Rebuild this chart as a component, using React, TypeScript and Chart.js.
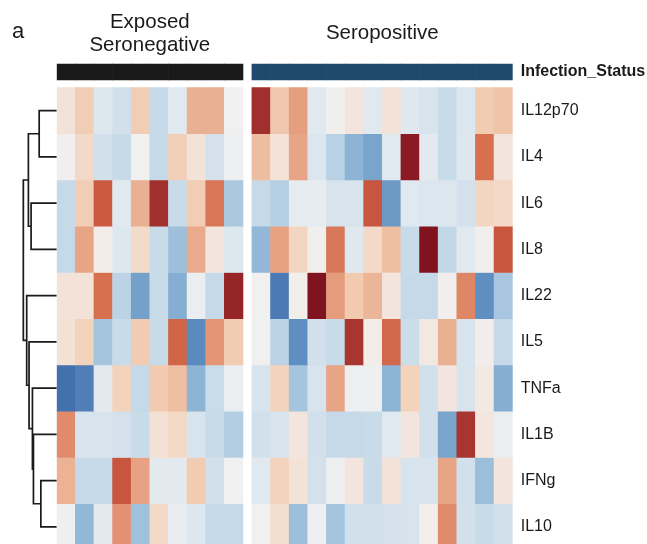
import { useEffect, useRef } from 'react';
import { Chart, registerables } from 'chart.js';

Chart.register(...registerables);

// ---- data -------------------------------------------------------------
const cytokines = ['IL12p70', 'IL4', 'IL6', 'IL8', 'IL22', 'IL5', 'TNFa', 'IL1B', 'IFNg', 'IL10'];

const groups = ['Exposed Seronegative', 'Seropositive'];
const groupSizes = [10, 14];
const groupHeaders: (string | string[])[] = [['Exposed', 'Seronegative'], 'Seropositive'];
const annotationTitle = 'Infection_Status';

// scaled cytokine levels per subject (10 exposed seronegative, then 14 seropositive)
const IL12p70 = [0.12, 0.25, -0.12, -0.2, 0.25, -0.28, -0.1, 0.38, 0.38, 0, 0.82, 0.28, 0.44, -0.1, 0.01, 0.1, -0.1, 0.12, -0.11, -0.16, -0.26, -0.13, 0.26, 0.3];
const IL4 = [0.02, 0.18, -0.2, -0.27, 0, -0.28, 0.24, 0.12, -0.18, -0.02, 0.33, 0.12, 0.42, -0.13, -0.34, -0.52, -0.6, -0.1, 0.88, -0.08, -0.26, -0.12, 0.6, 0.1];
const IL6 = [-0.28, 0.25, 0.68, -0.1, 0.38, 0.82, -0.26, 0.25, 0.58, -0.4, -0.28, -0.35, -0.07, -0.06, -0.16, -0.16, 0.7, -0.65, -0.1, -0.13, -0.13, -0.18, 0.2, 0.18];
const IL8 = [-0.28, 0.42, 0.05, -0.12, 0.17, -0.26, -0.45, 0.4, 0.1, -0.12, -0.5, 0.43, 0.2, 0.01, 0.57, -0.11, 0.18, 0.32, -0.26, 0.92, -0.29, -0.1, 0.01, 0.7];
const IL22 = [0.12, 0.12, 0.6, -0.32, -0.62, -0.26, -0.55, -0.03, -0.28, 0.85, 0, -0.8, 0.03, 0.92, 0.45, 0.27, 0.36, 0.1, -0.28, -0.28, 0.02, 0.52, -0.7, -0.41];
const IL5 = [0.13, 0.22, -0.42, -0.26, 0.26, -0.26, 0.64, -0.72, 0.47, 0.26, 0, -0.32, -0.7, -0.2, -0.26, 0.8, 0.05, 0.63, -0.23, 0.08, 0.38, -0.15, 0.04, -0.28];
const TNFa = [-0.85, -0.78, -0.08, 0.22, -0.28, 0.27, 0.32, -0.52, -0.25, -0.04, -0.16, 0.22, -0.42, -0.16, 0.42, -0.02, -0.02, -0.52, 0.22, -0.2, 0.1, -0.15, 0.07, -0.55];
const IL1B = [0.5, -0.15, -0.15, -0.18, -0.26, 0.13, 0.19, -0.15, -0.26, -0.36, -0.2, -0.15, 0.1, -0.2, -0.28, -0.28, -0.26, -0.1, 0.1, -0.2, -0.6, 0.8, 0.09, -0.03];
const IFNg = [0.37, -0.28, -0.28, 0.7, 0.43, -0.08, -0.08, 0.26, -0.2, 0, -0.1, 0.22, 0.12, -0.18, -0.02, 0.1, -0.26, 0.12, -0.16, -0.16, 0.42, -0.2, -0.46, 0.1];
const IL10 = [-0.02, -0.5, -0.08, 0.48, -0.44, 0.18, -0.05, -0.12, -0.28, -0.28, 0, 0.15, -0.46, -0.02, -0.42, -0.2, -0.2, -0.18, -0.16, 0.03, 0.5, -0.2, -0.26, -0.2];

const levels = [IL12p70, IL4, IL6, IL8, IL22, IL5, TNFa, IL1B, IFNg, IL10];

// row clustering (scipy-style linkage): ids 0-9 are rows, 10+ are merges in order
const linkLeft = [0, 2, 10, 8, 7, 6, 5, 4, 12];
const linkRight = [1, 3, 11, 9, 13, 14, 15, 16, 17];
const linkHeight = [0.52, 0.76, 0.84, 0.47, 0.69, 0.72, 0.82, 0.89, 0.99];

// ---- styling -----------------------------------------------------------
const FONT = "'Liberation Sans', Arial, Helvetica, sans-serif";
const TEXT = '#1a1a1a';
const groupColors = ['#1a1a1a', '#1f4a6e'];

// diverging blue-white-red scale
const colorStops: [number, string][] = [
  [-1.0, '#2f5d9c'],
  [-0.85, '#4470ae'],
  [-0.7, '#5f8fc0'],
  [-0.55, '#86aed2'],
  [-0.4, '#aac8e0'],
  [-0.28, '#c5d9e8'],
  [-0.15, '#d8e4ed'],
  [-0.05, '#e8edf0'],
  [0, '#f0f0f0'],
  [0.05, '#f3ece8'],
  [0.12, '#f3e2d8'],
  [0.22, '#f3d3bc'],
  [0.3, '#efc4a8'],
  [0.4, '#e9ab8c'],
  [0.5, '#e08c6c'],
  [0.6, '#d6704f'],
  [0.7, '#c8553e'],
  [0.8, '#a83530'],
  [0.9, '#841520'],
  [1.0, '#6a0a1a'],
];

const hexToRgb = (h: string) => [1, 3, 5].map((i) => parseInt(h.slice(i, i + 2), 16));

function colorFor(v: number): string {
  if (v <= colorStops[0][0]) return colorStops[0][1];
  for (let i = 1; i < colorStops.length; i++) {
    const [v1, c1] = colorStops[i];
    if (v <= v1) {
      const [v0, c0] = colorStops[i - 1];
      const t = (v - v0) / (v1 - v0);
      const a = hexToRgb(c0);
      const b = hexToRgb(c1);
      const m = a.map((x, k) => Math.round(x + (b[k] - x) * t));
      return `rgb(${m[0]},${m[1]},${m[2]})`;
    }
  }
  return colorStops[colorStops.length - 1][1];
}

// ---- layout (in scale units) -------------------------------------------
const GROUP_GAP = 0.48; // blank space between the two subject groups, in columns
const X_MAX = groupSizes.reduce((a, b) => a + b, 0) + GROUP_GAP * (groupSizes.length - 1);
const Y_MIN = -0.5946;
const Y_MAX = 9.87;
const ANNOT_TOP = -0.508;
const ANNOT_BOTTOM = -0.162;
const DENDRO_MIN = -13.53;

const groupStart = groupSizes.map((_, g) =>
  groupSizes.slice(0, g).reduce((a, b) => a + b, 0) + g * GROUP_GAP
);
const columnGroup: number[] = [];
const columnX: number[] = [];
groupSizes.forEach((n, g) => {
  for (let i = 0; i < n; i++) {
    columnGroup.push(g);
    columnX.push(groupStart[g] + i + 0.5);
  }
});
const groupCenters = groupSizes.map((n, g) => groupStart[g] + n / 2);

const yTickValues = [(ANNOT_TOP + ANNOT_BOTTOM) / 2, ...cytokines.map((_, i) => i + 0.5)];
const yTickLabels = [annotationTitle, ...cytokines];

function buildDendrogram() {
  const nodeY: number[] = cytokines.map((_, i) => i + 0.5);
  const nodeH: number[] = cytokines.map(() => 0);
  return linkLeft.map((l, k) => {
    const r = linkRight[k];
    const h = linkHeight[k];
    const pts = [
      { x: nodeH[l], y: nodeY[l] },
      { x: h, y: nodeY[l] },
      { x: h, y: nodeY[r] },
      { x: nodeH[r], y: nodeY[r] },
    ];
    nodeY.push((nodeY[l] + nodeY[r]) / 2);
    nodeH.push(h);
    return {
      type: 'line' as const,
      data: pts,
      xAxisID: 'xd',
      yAxisID: 'y',
      borderColor: TEXT,
      borderWidth: 1.7,
      pointRadius: 0,
      tension: 0,
      fill: false,
      clip: false as const,
    };
  });
}

const panelLabel = {
  id: 'panelLabel',
  afterDraw(chart: Chart) {
    const { ctx } = chart;
    ctx.save();
    ctx.font = `22px ${FONT}`;
    ctx.fillStyle = TEXT;
    ctx.textBaseline = 'alphabetic';
    ctx.fillText('a', 12, 38);
    ctx.restore();
  },
};

const noEdgePadding = (s: any) => {
  s.paddingTop = 0;
  s.paddingBottom = 0;
  s.paddingLeft = 0;
  s.paddingRight = 0;
};

export default function App() {
  const canvasRef = useRef<HTMLCanvasElement | null>(null);

  useEffect(() => {
    const canvas = canvasRef.current;
    if (!canvas) return;
    Chart.defaults.font.family = FONT;

    const heatDatasets = levels.map((row, r) => ({
      type: 'bar' as const,
      label: cytokines[r],
      data: row.map((_, j) => ({ x: columnX[j], y: [r, r + 1] })),
      backgroundColor: row.map((v) => colorFor(v)),
      borderWidth: 0,
      grouped: false,
      barPercentage: 1,
      categoryPercentage: 1,
      xAxisID: 'x',
      yAxisID: 'y',
    }));

    const annotDataset = {
      type: 'bar' as const,
      label: annotationTitle,
      data: columnX.map((x) => ({ x, y: [ANNOT_TOP, ANNOT_BOTTOM] })),
      backgroundColor: columnGroup.map((g) => groupColors[g]),
      borderWidth: 0,
      grouped: false,
      barPercentage: 1,
      categoryPercentage: 1,
      xAxisID: 'x',
      yAxisID: 'y',
    };

    const chart = new Chart(canvas, {
      type: 'bar',
      data: { datasets: [...heatDatasets, annotDataset, ...buildDendrogram()] as any },
      options: {
        responsive: false,
        animation: false,
        events: [],
        layout: { padding: { left: 56.7, right: 0, top: 0, bottom: 0 } },
        plugins: { legend: { display: false }, tooltip: { enabled: false } },
        scales: {
          x: {
            type: 'linear',
            position: 'top',
            offset: false,
            min: 0,
            max: X_MAX,
            grid: { display: false, drawTicks: false, offset: false },
            border: { display: false },
            afterBuildTicks: (s: any) => {
              s.ticks = groupCenters.map((value) => ({ value }));
            },
            afterFit: (s: any) => {
              s.height = 60;
              noEdgePadding(s);
            },
            ticks: {
              autoSkip: false,
              maxRotation: 0,
              minRotation: 0,
              padding: 14.4,
              crossAlign: 'center',
              color: TEXT,
              font: { family: FONT, size: 20.5, lineHeight: 1.156 },
              callback: (_v: any, i: number) => groupHeaders[i],
            },
          },
          xd: {
            type: 'linear',
            display: false,
            offset: false,
            reverse: true,
            min: DENDRO_MIN,
            max: 0,
          },
          y: {
            type: 'linear',
            position: 'right',
            offset: false,
            reverse: true,
            min: Y_MIN,
            max: Y_MAX,
            grid: { display: false, drawTicks: false },
            border: { display: false },
            afterBuildTicks: (s: any) => {
              s.ticks = yTickValues.map((value) => ({ value }));
            },
            afterFit: (s: any) => {
              s.width = 647 - 512.7;
              noEdgePadding(s);
            },
            ticks: {
              autoSkip: false,
              padding: 8,
              color: TEXT,
              font: (ctx: any) => ({
                family: FONT,
                size: 16,
                weight: ctx.index === 0 ? 'bold' : 'normal',
              }),
              callback: (_v: any, i: number) => yTickLabels[i],
            },
          },
        },
      } as any,
      plugins: [panelLabel],
    });

    return () => chart.destroy();
  }, []);

  return (
    <div style={{ position: 'fixed', left: 0, top: 0, width: 647, height: 544, background: '#fff' }}>
      <canvas ref={canvasRef} width={647} height={544} style={{ display: 'block', width: 647, height: 544 }} />
    </div>
  );
}
